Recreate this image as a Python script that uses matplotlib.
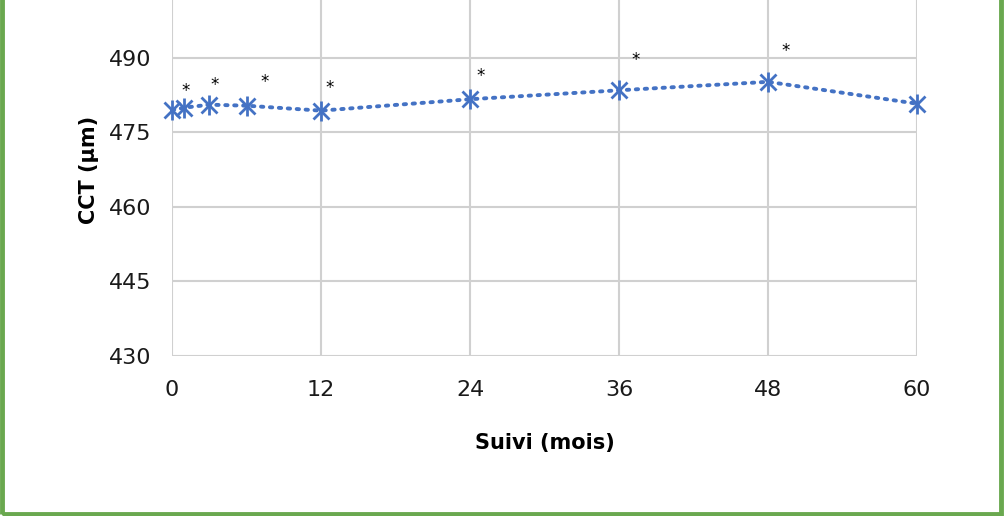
import matplotlib.pyplot as plt
from matplotlib.patches import Rectangle

# suivi en mois et CCT moyenne (µm)
months = [0, 1, 3, 6, 12, 24, 36, 48, 60]
cct = [479.5, 480.0, 480.6, 480.4, 479.4, 481.7, 483.5, 485.2, 480.8]
# points significatifs (*) et décalage de l'astérisque en points
signif = [False, True, True, True, True, True, True, True, False]
star_dx = [0, 1, 4, 13, 6, 8, 12, 13, 0]
star_dy = [0, 12, 14, 17, 16, 17, 22, 22, 0]

x_ticks = [0, 12, 24, 36, 48, 60]
y_ticks = [430, 445, 460, 475, 490]

blue = "#4472C4"
grid_col = "#D0D0D0"

plt.rcParams["font.family"] = ["DejaVu Sans"]

fig = plt.figure(figsize=(10.05, 5.16), dpi=100)
ax = fig.add_axes([172 / 1005, 160 / 516, 745 / 1005, 372.5 / 516])

ax.plot(months, cct, color=blue, lw=2.8, ls=(0, (0.6, 1.7)),
        dash_capstyle="round", marker="x", ms=12, mew=2, zorder=3,
        clip_on=False)
ax.plot(months, cct, color=blue, ls="none", marker="|", ms=15, mew=2,
        zorder=3, clip_on=False)

for m, v, s, dx, dy in zip(months, cct, signif, star_dx, star_dy):
    if s:
        ax.annotate("*", (m, v), xytext=(dx, dy), textcoords="offset points",
                    ha="center", va="center", fontsize=12, color="black")

ax.set_xlim(0, 60)
ax.set_ylim(430, 505)
ax.set_xticks(x_ticks)
ax.set_yticks(y_ticks)
# ligne de grille à 505 (hors image)
ax.axhline(505, color=grid_col, lw=1.5)
ax.grid(True, color=grid_col, lw=1.5)
ax.set_axisbelow(True)
for sp in ax.spines.values():
    sp.set_visible(False)
ax.tick_params(length=0, labelsize=16, colors="#1a1a1a")
ax.tick_params(axis="x", pad=17)
ax.tick_params(axis="y", pad=15)

ax.set_xlabel("Suivi (mois)", fontsize=15, fontweight="bold", labelpad=24)
ax.set_ylabel("CCT (µm)", fontsize=15, fontweight="bold", labelpad=7)

# cadre vert
fig.patches.append(Rectangle((1.5 / 1005, 2.5 / 516), 999.5 / 1005, 1.2,
                             transform=fig.transFigure, fill=False,
                             edgecolor="#6AA84F", lw=3.5, zorder=10))

fig.savefig("out.png", dpi=100)
